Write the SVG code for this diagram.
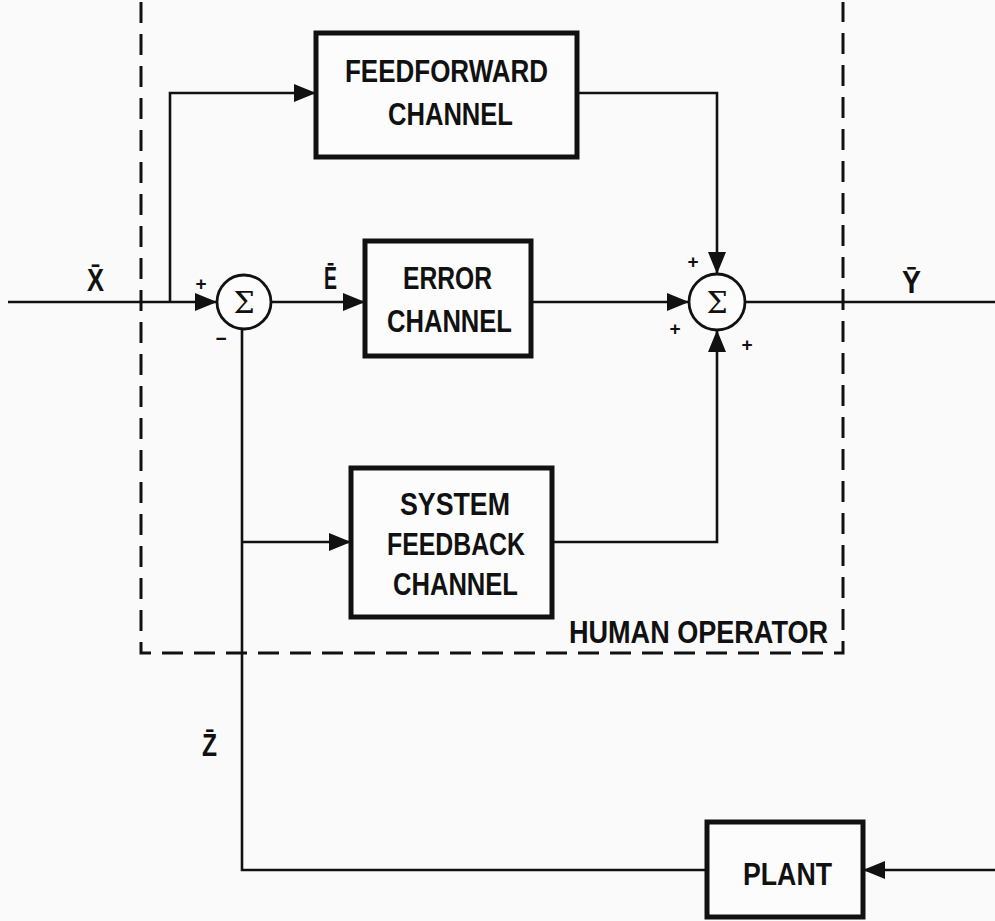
<svg xmlns="http://www.w3.org/2000/svg" width="995" height="921" viewBox="0 0 995 921">
<style>
.bg{fill:#fafafa}
.box{fill:#fcfcfc;stroke:#111;stroke-width:5}
.ln{fill:none;stroke:#111;stroke-width:2.6}
.dash{fill:none;stroke:#111;stroke-width:3;stroke-dasharray:21 11}
.sum{fill:#fcfcfc;stroke:#111;stroke-width:2.8}
.t{font-family:"Liberation Sans",Arial,sans-serif;font-weight:bold;font-size:31px;fill:#111}
.lab{font-family:"Liberation Sans",Arial,sans-serif;font-weight:bold;font-size:31px;fill:#111}
.sig{font-family:"DejaVu Serif","Liberation Serif",serif;font-size:30px;fill:#111}
.pm{font-family:"Liberation Sans",Arial,sans-serif;font-weight:bold;font-size:19px;fill:#111}
</style>
<defs>
<marker id="ah" markerUnits="userSpaceOnUse" markerWidth="24" markerHeight="20" refX="22" refY="10" orient="auto">
<path d="M0,1 L22,10 L0,19 Z" fill="#111"/>
</marker>
</defs>
<rect class="bg" x="0" y="0" width="995" height="921"/>

<g id="human-operator">
<path class="dash" d="M141,2 V653 H843 V2"/>
<text class="t" x="569" y="643" textLength="259" lengthAdjust="spacingAndGlyphs">HUMAN OPERATOR</text>
</g>

<g id="connectors">
<path class="ln" d="M8,302 H217" marker-end="url(#ah)"/>
<path class="ln" d="M170,302 V93 H316" marker-end="url(#ah)"/>
<path class="ln" d="M272,302 H365" marker-end="url(#ah)"/>
<path class="ln" d="M577,93 H717 V274" marker-end="url(#ah)"/>
<path class="ln" d="M531,302 H689" marker-end="url(#ah)"/>
<path class="ln" d="M552,542 H717 V330" marker-end="url(#ah)"/>
<path class="ln" d="M746,302 H995"/>
<path class="ln" d="M242,330 V870 H707"/>
<path class="ln" d="M242,542 H351" marker-end="url(#ah)"/>
<path class="ln" d="M995,870 H863" marker-end="url(#ah)"/>
</g>

<g id="sum1">
<circle class="sum" cx="244" cy="302" r="27"/>
<text class="sig" x="244" y="313" text-anchor="middle">Σ</text>
<text class="pm" x="201" y="290" text-anchor="middle">+</text>
<text class="pm" x="221" y="345" text-anchor="middle">−</text>
</g>

<g id="sum2">
<circle class="sum" cx="717" cy="302" r="28"/>
<text class="sig" x="717" y="313" text-anchor="middle">Σ</text>
<text class="pm" x="693" y="268" text-anchor="middle">+</text>
<text class="pm" x="675" y="335" text-anchor="middle">+</text>
<text class="pm" x="747" y="351" text-anchor="middle">+</text>
</g>

<g id="feedforward-channel">
<rect class="box" x="316" y="33" width="261" height="124"/>
<text class="t" x="345" y="82" textLength="203" lengthAdjust="spacingAndGlyphs">FEEDFORWARD</text>
<text class="t" x="388" y="125" textLength="125" lengthAdjust="spacingAndGlyphs">CHANNEL</text>
</g>

<g id="error-channel">
<rect class="box" x="365" y="241" width="166" height="115"/>
<text class="t" x="403" y="289" textLength="89" lengthAdjust="spacingAndGlyphs">ERROR</text>
<text class="t" x="387" y="332" textLength="125" lengthAdjust="spacingAndGlyphs">CHANNEL</text>
</g>

<g id="system-feedback-channel">
<rect class="box" x="351" y="468" width="201" height="149"/>
<text class="t" x="400" y="515" textLength="110" lengthAdjust="spacingAndGlyphs">SYSTEM</text>
<text class="t" x="387" y="555" textLength="138" lengthAdjust="spacingAndGlyphs">FEEDBACK</text>
<text class="t" x="393" y="595" textLength="125" lengthAdjust="spacingAndGlyphs">CHANNEL</text>
</g>

<g id="plant">
<rect class="box" x="707" y="822" width="156" height="95"/>
<text class="t" x="743" y="885" textLength="89" lengthAdjust="spacingAndGlyphs">PLANT</text>
</g>

<g id="labels">
<text class="lab" x="87" y="291" textLength="17" lengthAdjust="spacingAndGlyphs">X̄</text>
<text class="lab" x="902" y="293" textLength="19" lengthAdjust="spacingAndGlyphs">Ȳ</text>
<text class="lab" x="324" y="289" textLength="13" lengthAdjust="spacingAndGlyphs">Ē</text>
<text class="lab" x="202" y="756" textLength="15" lengthAdjust="spacingAndGlyphs">Z̄</text>
</g>
</svg>
